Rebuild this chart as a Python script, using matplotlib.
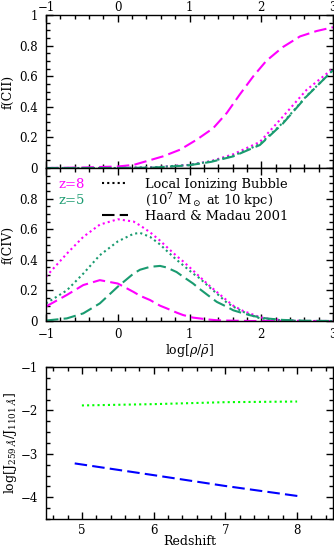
import matplotlib
matplotlib.use('Agg')
import matplotlib.pyplot as plt
from matplotlib.lines import Line2D
from matplotlib.ticker import MultipleLocator

plt.rcParams['font.family'] = ['DejaVu Serif']
plt.rcParams['mathtext.fontset'] = 'dejavuserif'
plt.rcParams['font.size'] = 9

MAG = '#ff00ff'
GRN = '#1a9b70'

# top panel: f(CII) vs log(rho/rhobar)
cii_x_hm8 = [-1, -0.5, 0, 0.22, 0.63, 0.87, 1.1, 1.33, 1.52, 1.7, 1.89, 2.07, 2.3, 2.54, 2.77, 3.0]
cii_hm8 = [0.0, 0.003, 0.01, 0.02, 0.076, 0.12, 0.185, 0.26, 0.36, 0.48, 0.60, 0.70, 0.79, 0.86, 0.895, 0.92]
cii_x = [-1, 0, 0.5, 0.98, 1.3, 1.61, 1.98, 2.3, 2.63, 3.0]
cii_hm5 = [0.0, 0.0, 0.003, 0.017, 0.04, 0.076, 0.15, 0.29, 0.467, 0.64]
cii_bub5 = [0.0, 0.0, 0.004, 0.019, 0.043, 0.08, 0.155, 0.295, 0.47, 0.64]
cii_bub8 = [0.0, 0.0, 0.005, 0.02, 0.045, 0.09, 0.17, 0.335, 0.51, 0.65]

# middle panel: f(CIV)
civ_x = [-1, -0.71, -0.48, -0.25, 0, 0.22, 0.31, 0.45, 0.59, 0.68, 0.82, 0.91, 1.05, 1.14,
         1.28, 1.38, 1.52, 1.61, 1.75, 1.84, 1.98, 2.07, 2.3, 2.6, 3.0]
civ_bub8 = [0.29, 0.44, 0.55, 0.63, 0.665, 0.65, 0.625, 0.58, 0.525, 0.485, 0.425, 0.39, 0.33, 0.29,
            0.23, 0.19, 0.135, 0.10, 0.065, 0.05, 0.025, 0.017, 0.005, 0.0, 0.0]
civ_bub5 = [0.115, 0.20, 0.31, 0.43, 0.52, 0.57, 0.576, 0.55, 0.50, 0.46, 0.40, 0.365, 0.31, 0.28,
            0.22, 0.18, 0.12, 0.094, 0.06, 0.04, 0.018, 0.013, 0.004, 0.0, 0.0]
civ_hm8 = [0.095, 0.17, 0.235, 0.267, 0.245, 0.19, 0.165, 0.137, 0.10, 0.083, 0.055, 0.039, 0.022, 0.017,
           0.009, 0.005, 0.003, 0.002, 0.001, 0.0, 0.0, 0.0, 0.0, 0.0, 0.0]
civ_hm5 = [0.003, 0.017, 0.05, 0.115, 0.224, 0.31, 0.335, 0.354, 0.36, 0.35, 0.32, 0.29, 0.245, 0.21,
           0.16, 0.125, 0.093, 0.07, 0.05, 0.038, 0.024, 0.017, 0.007, 0.002, 0.0]

# bottom panel: log(J259/J1101) vs redshift
z_bub = [5, 6, 7, 8]
ratio_bub = [-1.885, -1.855, -1.81, -1.795]
z_hm = [4.9, 6, 7, 8.07]
ratio_hm = [-3.22, -3.49, -3.74, -3.985]

fig = plt.figure(figsize=(3.34, 5.5), dpi=100)
W = 334.0
H = 550.0

def box(l, t, r, b):
    return [l / W, 1 - b / H, (r - l) / W, (b - t) / H]

ax1 = fig.add_axes(box(46, 15, 333, 168))
ax2 = fig.add_axes(box(46, 168, 333, 321))
ax3 = fig.add_axes(box(46, 367, 333, 519))

dash = (0, (6, 2.5))
dot = (0, (1, 1.5))
lw = 1.5

ax1.plot(cii_x_hm8, cii_hm8, color=MAG, ls=dash, lw=lw)
ax1.plot(cii_x, cii_bub8, color=MAG, ls=dot, lw=lw)
ax1.plot(cii_x, cii_bub5, color=GRN, ls=dot, lw=lw)
ax1.plot(cii_x, cii_hm5, color=GRN, ls=dash, lw=lw)

ax2.plot(civ_x, civ_bub8, color=MAG, ls=dot, lw=lw)
ax2.plot(civ_x, civ_bub5, color=GRN, ls=dot, lw=lw)
ax2.plot(civ_x, civ_hm8, color=MAG, ls=dash, lw=lw)
ax2.plot(civ_x, civ_hm5, color=GRN, ls=dash, lw=lw)

ax3.plot(z_bub, ratio_bub, color='#00ff00', ls=dot, lw=lw)
ax3.plot(z_hm, ratio_hm, color='#0000ff', ls=dash, lw=lw)

for ax in (ax1, ax2):
    ax.set_xlim(-1, 3)
    ax.set_ylim(0, 1)
    ax.xaxis.set_major_locator(MultipleLocator(1))
    ax.xaxis.set_minor_locator(MultipleLocator(0.2))
    ax.yaxis.set_major_locator(MultipleLocator(0.2))
    ax.yaxis.set_minor_locator(MultipleLocator(0.05))

ax3.set_xlim(4.5, 8.5)
ax3.set_ylim(-4.5, -1)
ax3.xaxis.set_major_locator(MultipleLocator(1))
ax3.xaxis.set_minor_locator(MultipleLocator(0.2))
ax3.yaxis.set_major_locator(MultipleLocator(1))
ax3.yaxis.set_minor_locator(MultipleLocator(0.25))

for ax in (ax1, ax2, ax3):
    ax.tick_params(which='both', direction='in', top=True, right=True, width=1.0, labelsize=8.5)
    ax.tick_params(which='major', length=5)
    ax.tick_params(which='minor', length=3)
    ax.tick_params(axis='x', pad=5)
    ax.tick_params(axis='y', pad=6)
    for s in ax.spines.values():
        s.set_linewidth(1.0)

ax1.tick_params(axis='x', labelbottom=False, labeltop=True, pad=1)
ax3.tick_params(axis='x', pad=3.5)
ax1.set_yticks([0, 0.2, 0.4, 0.6, 0.8, 1.0], ['0', '0.2', '0.4', '0.6', '0.8', '1'])
ax2.set_yticks([0, 0.2, 0.4, 0.6, 0.8], ['0', '0.2', '0.4', '0.6', '0.8'])
ax1.set_xticks([-1, 0, 1, 2, 3], ['\u22121', '0', '1', '2', '3'])
ax2.set_xticks([-1, 0, 1, 2, 3], ['\u22121', '0', '1', '2', '3'])
ax1.set_ylabel('f(CII)', labelpad=3)
ax2.set_ylabel('f(CIV)', labelpad=3)
ax2.set_xlabel(r'log[$\rho/\bar{\rho}$]', labelpad=1)
ax3.set_xlabel('Redshift', labelpad=-1)
ax3.set_ylabel(r'log[J$_{259\ \AA}$/J$_{1101\ \AA}$]', labelpad=1)

ax2.text(-0.82, 0.89, 'z=8', color=MAG, va='center', ha='left', fontsize=9.5)
ax2.text(-0.82, 0.79, 'z=5', color=GRN, va='center', ha='left', fontsize=9.5)
handles = [Line2D([], [], color='k', ls=dot, lw=lw),
           Line2D([], [], color='none'),
           Line2D([], [], color='k', ls=dash, lw=lw)]
labels = ['Local Ionizing Bubble', r'(10$^7$ M$_\odot$ at 10 kpc)', 'Haard & Madau 2001']
ax2.legend(handles, labels, loc='upper left', bbox_to_anchor=(0.195, 0.935), frameon=False,
           borderpad=0, borderaxespad=0, handlelength=2.0, handletextpad=1.3, labelspacing=0.0,
           fontsize=9.4)

fig.savefig('out.png', dpi=100)
